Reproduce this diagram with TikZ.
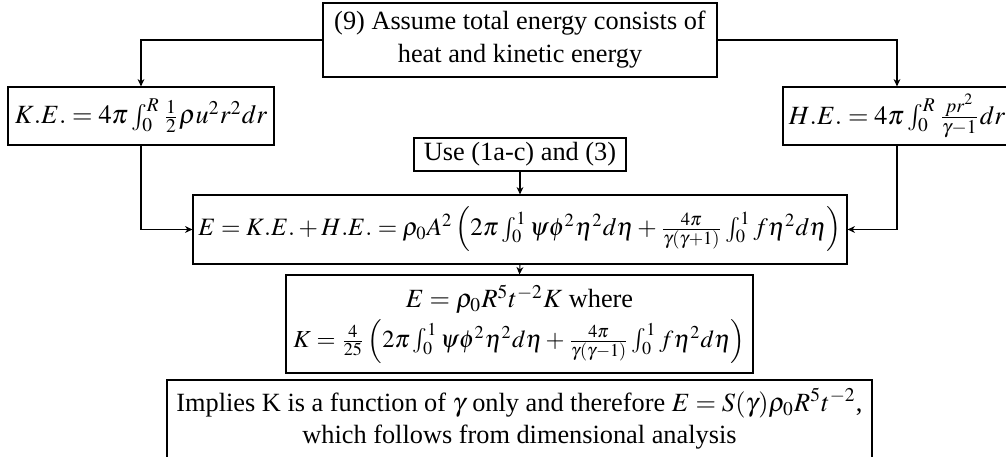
\documentclass[tikz,border=0pt]{standalone}
\usepackage{mathptmx}
\usepackage{fontspec}
\setmainfont{Liberation Serif}
\usetikzlibrary{arrows.meta}
\newlength\pxu
\setlength\pxu{0.38pt}
\tikzset{
  box/.style={draw, line width=0.45pt, align=center, inner sep=0pt,
    font=\fontsize{10}{12.5}\selectfont},
  arr/.style={line width=0.4pt, -{Stealth[length=2.8pt,width=2.6pt,inset=0.9pt]}}
}
\begin{document}
\begin{tikzpicture}[x=0.38pt,y=-0.38pt]
\useasboundingbox (0,0) rectangle (1006,457);
\clip (0,0) rectangle (1006,457);
\node[box, minimum width=394\pxu, minimum height=74\pxu] (top) at (520,40)
  {(9) Assume total energy consists of\\heat and kinetic energy};
\node[box, minimum width=266\pxu, minimum height=58\pxu] (ke) at (141,116)
  {$K.E. = 4\pi\int_0^R \frac{1}{2}\rho u^2 r^2 dr$};
\node[box, minimum width=228\pxu, minimum height=58\pxu] (he) at (897,116)
  {$H.E. = 4\pi\int_0^R \frac{pr^2}{\gamma-1} dr$};
\node[box, minimum width=212\pxu, minimum height=33\pxu] (use) at (520,154.5)
  {Use (1a-c) and (3)};
\node[box, minimum width=654\pxu, minimum height=69\pxu] (E) at (520,229.5)
  {\scalebox{0.95}{$E = K.E. + H.E. = \rho_0 A^2 \left(2\pi\int_0^1 \psi\phi^2\eta^2 d\eta + \frac{4\pi}{\gamma(\gamma+1)}\int_0^1 f\eta^2 d\eta\right)$}};
\node[box, minimum width=467\pxu, minimum height=98\pxu] (K) at (519.5,324)
  {$E = \rho_0 R^5 t^{-2} K$ where\\[1pt]\scalebox{0.93}{$K = \frac{4}{25}\left(2\pi\int_0^1 \psi\phi^2\eta^2 d\eta + \frac{4\pi}{\gamma(\gamma-1)}\int_0^1 f\eta^2 d\eta\right)$}};
\node[box, minimum width=705\pxu, minimum height=92\pxu] (bot) at (519.5,426)
  {Implies K is a function of $\gamma$ only and therefore $E = S(\gamma)\rho_0 R^5 t^{-2}$,\\which follows from dimensional analysis\\[-5pt]\mbox{}};
\draw[arr] (top.west) -| (ke.north);
\draw[arr] (top.east) -| (he.north);
\draw[arr] (ke.south) |- (E.west);
\draw[arr] (he.south) |- (E.east);
\draw[arr] (use.south) -- (E.north);
\draw[arr] (E.south) -- (K.north);
\end{tikzpicture}
\end{document}
